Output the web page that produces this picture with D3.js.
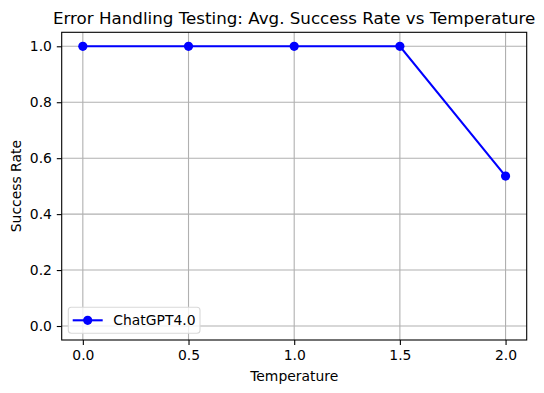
<!DOCTYPE html>
<html>
<head>
<meta charset="utf-8">
<script src="https://cdn.jsdelivr.net/npm/d3@7"></script>
<style>
  body { margin: 0; background: #fff; }
  text { font-family: "DejaVu Sans", sans-serif; fill: #000; }
</style>
</head>
<body>
<svg id="chart" width="544" height="393"></svg>
<script>
"use strict"

const temperatures = [0.0, 0.5, 1.0, 1.5, 2.0]
const successRates = [1.0, 1.0, 1.0, 1.0, 0.536]
const xTicks = [0.0, 0.5, 1.0, 1.5, 2.0]
const yTicks = [0.0, 0.2, 0.4, 0.6, 0.8, 1.0]
const seriesName = "ChatGPT4.0"

const svg = d3.select("#chart")
const margin = { left: 61.7, right: 526.7, top: 32.3, bottom: 340 }

const x = d3.scaleLinear().domain([-0.1, 2.1]).range([margin.left, margin.right])
const y = d3.scaleLinear().domain([-0.05, 1.05]).range([margin.bottom, margin.top])

// grid
const grid = svg.append("g")
grid.selectAll(".gx").data(xTicks).join("line")
    .attr("x1", d => x(d)).attr("x2", d => x(d))
    .attr("y1", margin.top).attr("y2", margin.bottom)
    .attr("stroke", "#b0b0b0").attr("stroke-width", 1.1)
grid.selectAll(".gy").data(yTicks).join("line")
    .attr("y1", d => y(d)).attr("y2", d => y(d))
    .attr("x1", margin.left).attr("x2", margin.right)
    .attr("stroke", "#b0b0b0").attr("stroke-width", 1.1)

// axes
const xAxis = svg.append("g")
    .attr("transform", `translate(0,${margin.bottom})`)
    .call(d3.axisBottom(x).tickValues(xTicks).tickFormat(d3.format(".1f")).tickSize(4.9).tickPadding(4.9))
const yAxis = svg.append("g")
    .attr("transform", `translate(${margin.left},0)`)
    .call(d3.axisLeft(y).tickValues(yTicks).tickFormat(d3.format(".1f")).tickSize(4.9).tickPadding(4.9))

for (const ax of [xAxis, yAxis]) {
    ax.select(".domain").remove()
    ax.selectAll("line").attr("stroke", "#000").attr("stroke-width", 1.1)
    ax.selectAll("text").attr("font-size", 13.9).attr("font-family", "DejaVu Sans").attr("fill", "#000")
}

// frame
svg.append("rect")
    .attr("x", margin.left).attr("y", margin.top)
    .attr("width", margin.right - margin.left).attr("height", margin.bottom - margin.top)
    .attr("fill", "none").attr("stroke", "#000").attr("stroke-width", 1.1)

// series
const data = temperatures.map((t, i) => ({ t: t, v: successRates[i] }))
svg.append("path")
    .datum(data)
    .attr("fill", "none").attr("stroke", "#0000ff").attr("stroke-width", 2.1)
    .attr("d", d3.line().x(d => x(d.t)).y(d => y(d.v)))
svg.selectAll(".pt").data(data).join("circle")
    .attr("cx", d => x(d.t)).attr("cy", d => y(d.v))
    .attr("r", 4.6).attr("fill", "#0000ff")

// labels
svg.append("text")
    .attr("x", (margin.left + margin.right) / 2).attr("y", 24)
    .attr("text-anchor", "middle").attr("font-size", 16.7)
    .text("Error Handling Testing: Avg. Success Rate vs Temperature")
svg.append("text")
    .attr("x", (margin.left + margin.right) / 2).attr("y", 381)
    .attr("text-anchor", "middle").attr("font-size", 13.9)
    .text("Temperature")
svg.append("text")
    .attr("transform", `translate(21,${(margin.top + margin.bottom) / 2}) rotate(-90)`)
    .attr("text-anchor", "middle").attr("font-size", 13.9)
    .text("Success Rate")

// legend
const legend = svg.append("g")
legend.append("rect")
    .attr("x", 68.3).attr("y", 307.3).attr("width", 131.7).attr("height", 26)
    .attr("rx", 3).attr("fill", "#fff").attr("fill-opacity", 0.8)
    .attr("stroke", "#d9d9d9").attr("stroke-width", 1.1)
legend.append("line")
    .attr("x1", 72.7).attr("x2", 102.7).attr("y1", 320.3).attr("y2", 320.3)
    .attr("stroke", "#0000ff").attr("stroke-width", 2.1)
legend.append("circle")
    .attr("cx", 87.7).attr("cy", 320.3).attr("r", 4.6).attr("fill", "#0000ff")
legend.append("text")
    .attr("x", 113.3).attr("y", 325.3).attr("font-size", 13.9)
    .text(seriesName)
</script>
</body>
</html>
